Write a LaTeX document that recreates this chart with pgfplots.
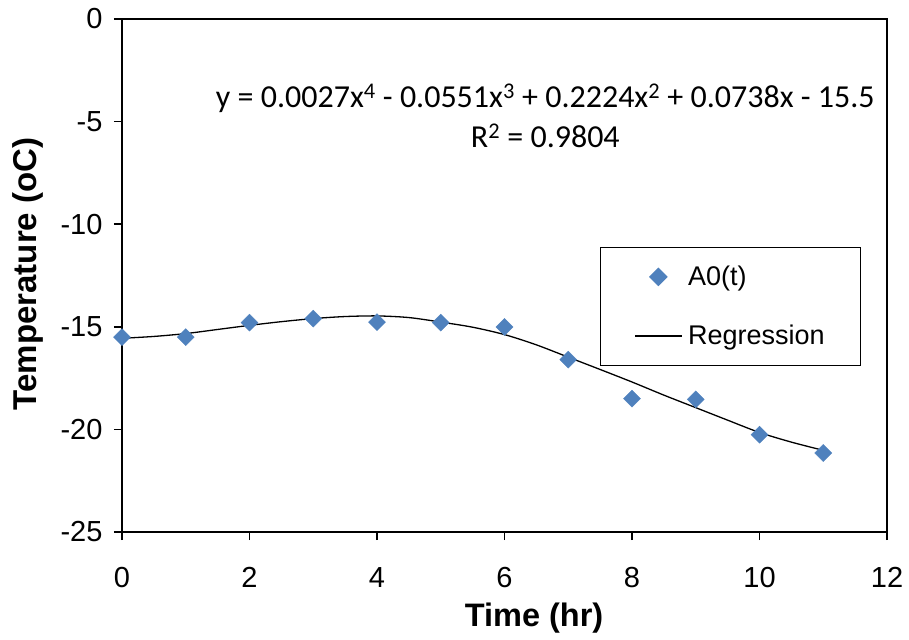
\documentclass[border=0pt]{standalone}
\usepackage{fontspec}
\setmainfont{Liberation Sans}
\newfontfamily\calibri{Carlito}
\usepackage{pgfplots}
\pgfplotsset{compat=1.18}
\definecolor{exblue}{HTML}{4F81BD}
\begin{document}
\begin{tikzpicture}
\begin{axis}[
  scale only axis, width=765pt, height=513pt,
  xmin=0, xmax=12, ymin=-25, ymax=0,
  xtick={0,2,...,12}, ytick={-25,-20,...,0},
  tick align=outside, major tick length=8pt,
  xtick pos=lower, ytick pos=left,
  axis line style={line width=1.5pt},
  every tick/.style={black, line width=1.5pt},
  tick label style={font=\fontsize{29}{33}\selectfont},
  yticklabel style={xshift=-8pt},
  xticklabel style={yshift=-24pt},
  /pgf/number format/assume math mode=true,
  xlabel={Time (hr)}, ylabel={Temperature (oC)},
  xlabel style={font=\fontsize{32.5}{36}\selectfont\bfseries, at={(axis description cs:0.5386,-0.168)}, anchor=center},
  ylabel style={font=\fontsize{33}{37}\selectfont\bfseries, at={(axis description cs:-0.1229,0.503)}, anchor=center, rotate=0},
  legend style={at={(rel axis cs:0.625,0.556)}, anchor=north west, draw=black, line width=1.2pt,
    font=\fontsize{27}{31}\selectfont, inner xsep=34pt, inner ysep=17pt, row sep=34pt},
  legend cell align=left,
  legend image code/.code={\draw[mark repeat=2,mark phase=2,#1] plot coordinates {(0pt,0pt) (23pt,0pt) (46pt,0pt)}; \path (50pt,0pt);},
]
\addplot[only marks, mark=square*, mark size=6pt, color=exblue, mark options={rotate=45, draw=exblue, fill=exblue}]
  coordinates {(0,-15.50) (1,-15.50) (2,-14.80) (3,-14.60) (4,-14.77) (5,-14.80) (6,-15.01)
               (7,-16.60) (8,-18.50) (9,-18.54) (10,-20.26) (11,-21.15)};
\addlegendentry{A0(t)}
\addplot[black, line width=1.3pt, smooth, no marks]
  coordinates {(0,-15.56) (0.5,-15.47) (1,-15.33) (1.5,-15.13) (2,-14.93) (2.5,-14.75) (3,-14.60)
               (3.5,-14.50) (4,-14.47) (4.5,-14.55) (5,-14.77) (5.5,-15.02) (6,-15.38) (6.5,-15.88)
               (7,-16.48) (7.5,-17.08) (8,-17.69) (8.5,-18.33) (9,-18.94) (9.5,-19.55) (10,-20.15)
               (10.5,-20.62) (11,-21.02)};
\addlegendentry{Regression}
\node[font=\calibri\fontsize{32}{40}\selectfont, align=center] at (axis cs:6.64,-4.70)
  {y = 0.0027x\textsuperscript{4} - 0.0551x\textsuperscript{3} + 0.2224x\textsuperscript{2} + 0.0738x - 15.5\\R\textsuperscript{2} = 0.9804};
\end{axis}
\pgfresetboundingbox
\path[use as bounding box] ([shift={(-122pt,-107pt)}]current axis.south west) rectangle ++(909pt,639pt);
\end{tikzpicture}
\end{document}
